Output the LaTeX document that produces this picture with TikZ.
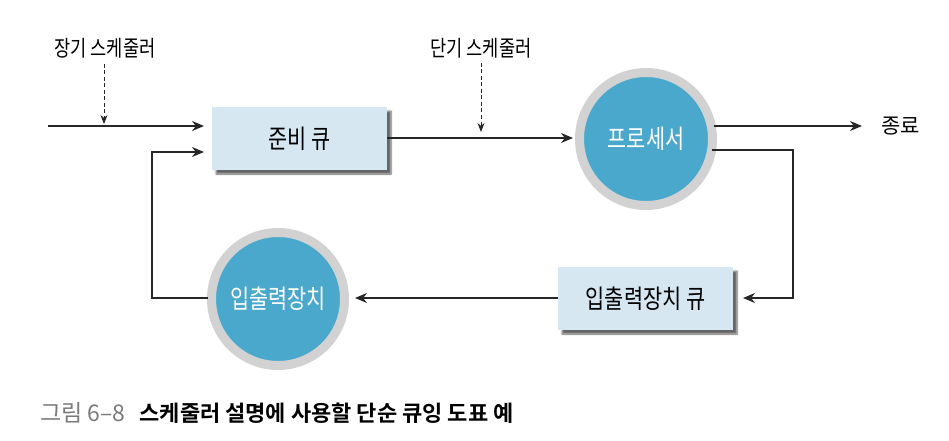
\documentclass[tikz,border=0pt]{standalone}
\usepackage{fontspec}
\usetikzlibrary{arrows.meta,shadows.blur}
\newfontfamily\kfont[FakeStretch=0.8]{Noto Sans CJK KR}
\newfontfamily\kcap{Noto Sans CJK KR}
\newfontfamily\kcapb{Noto Sans CJK KR Bold}
\definecolor{boxblue}{HTML}{D6E7F1}
\definecolor{circblue}{HTML}{4AA8CD}
\definecolor{ringgray}{HTML}{D2D2D2}
\definecolor{capgray}{HTML}{7A7A7A}
\tikzset{
  queuebox/.style={rectangle, fill=boxblue, minimum width=175pt, minimum height=63pt,
    inner sep=0pt, font=\kfont\fontsize{26}{28}\selectfont,
    blur shadow={shadow xshift=4pt, shadow yshift=-4pt, shadow blur steps=6, shadow opacity=60}},
  proc/.style={circle, fill=circblue, draw=ringgray, line width=9pt, minimum size=133pt,
    inner sep=0pt, text=white, font=\kfont\fontsize{26}{28}\selectfont},
  lbl/.style={font=\kfont\fontsize{22}{24}\selectfont, inner sep=0pt},
  flow/.style={line width=1.6pt, draw=black!85, -{Stealth[length=12pt,width=10pt]}},
  schedline/.style={line width=1pt, draw=black!85, dash pattern=on 4pt off 2.5pt,
    -{Stealth[length=9pt,width=7pt]}}
}
\begin{document}
\begin{tikzpicture}[x=1pt,y=-1pt]
\useasboundingbox (0,0) rectangle (949,441);
% nodes
\node[queuebox] (rq) at (299.5,138.5) {준비 큐};
\node[proc] (cpu) at (646,139) {프로세서};
\node[queuebox] (ioq) at (645.5,298.5) {입출력장치 큐};
\node[proc] (io) at (278,299) {입출력장치};
\node[lbl] (ltl) at (105,48) {장기 스케줄러};
\node[lbl] (stl) at (481,48) {단기 스케줄러};
\node[lbl, anchor=west, font=\kcap\fontsize{21}{24}\selectfont] (end) at (881,126) {종료};
% coordinates
\coordinate (in) at (48,126);
\coordinate (lt1) at (104,64);
\coordinate (lt2) at (104,124);
\coordinate (st1) at (481,63);
\coordinate (st2) at (481,132);
\coordinate (rqin1) at (204,126);
\coordinate (rqin2) at (204,152);
\coordinate (cpuin) at (573,138);
\coordinate (rqout) at (387,138);
\coordinate (cpuout1) at (714,126);
\coordinate (endtip) at (862,126);
\coordinate (cpuout2) at (712,150);
\coordinate (rc1) at (793,150);
\coordinate (rc2) at (793,298);
\coordinate (ioqtip) at (743,298);
\coordinate (ioqout) at (558,298);
\coordinate (iotip) at (355,298);
\coordinate (ioout) at (208,298);
\coordinate (lc1) at (152,298);
\coordinate (lc2) at (152,152);
% connectors
\draw[flow] (in) -- (rqin1);
\draw[schedline] (lt1) -- (lt2);
\draw[flow] (rqout) -- (cpuin);
\draw[schedline] (st1) -- (st2);
\draw[flow] (cpuout1) -- (endtip);
\draw[flow] (cpuout2) -- (rc1) -- (rc2) -- (ioqtip);
\draw[flow] (ioqout) -- (iotip);
\draw[flow] (ioout) -- (lc1) -- (lc2) -- (rqin2);
% caption
\node[anchor=west, inner sep=0pt] (cap) at (40,413)
  {{\kcap\fontsize{23}{26}\selectfont\color{capgray}그림 6–8}\hspace{14pt}{\kcapb\fontsize{22}{26}\selectfont 스케줄러 설명에 사용할 단순 큐잉 도표 예}};
\end{tikzpicture}
\end{document}
